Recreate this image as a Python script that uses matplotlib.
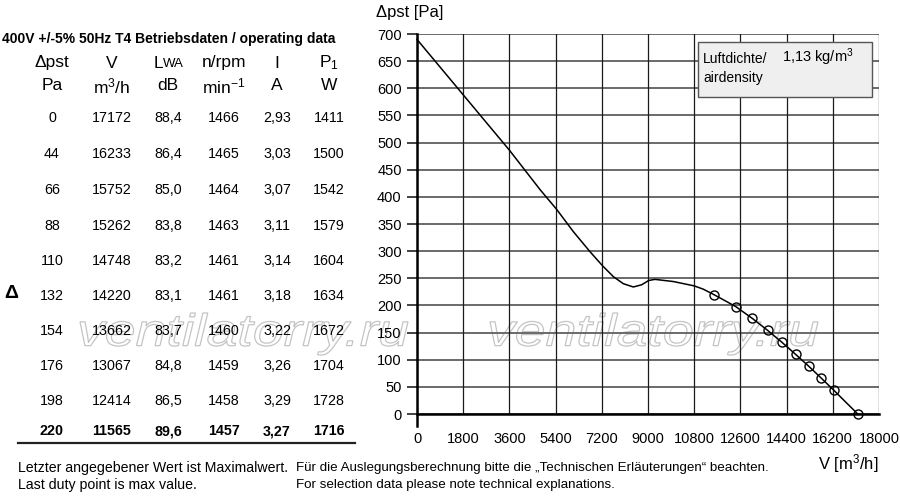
import matplotlib
matplotlib.use("Agg")
import matplotlib.pyplot as plt
from matplotlib.textpath import TextPath
from matplotlib.patches import PathPatch
from matplotlib.font_manager import FontProperties
from matplotlib.transforms import Affine2D
from matplotlib.lines import Line2D

plt.rcParams['font.family'] = ['Liberation Sans', 'DejaVu Sans']
plt.rcParams['mathtext.fontset'] = 'custom'
plt.rcParams['mathtext.rm'] = 'Liberation Sans'
plt.rcParams['mathtext.it'] = 'Liberation Sans:italic'
plt.rcParams['mathtext.bf'] = 'Liberation Sans:bold'

# ---- data ----
dp = [0, 44, 66, 88, 110, 132, 154, 176, 198, 220]
flow = [17172, 16233, 15752, 15262, 14748, 14220, 13662, 13067, 12414, 11565]
lwa = ['88,4', '86,4', '85,0', '83,8', '83,2', '83,1', '83,7', '84,8', '86,5', '89,6']
rpm = [1466, 1465, 1464, 1463, 1461, 1461, 1460, 1459, 1458, 1457]
cur = ['2,93', '3,03', '3,07', '3,11', '3,14', '3,18', '3,22', '3,26', '3,29', '3,27']
p1 = [1411, 1500, 1542, 1579, 1604, 1634, 1672, 1704, 1728, 1716]

curve_V = [0, 1800, 3600, 4800, 5440, 6090, 6740, 7230, 7650, 8040, 8430,
           8750, 9030, 9270, 9990, 10800, 11150]
curve_p = [690, 588, 486, 413, 377, 336, 299, 273, 253, 240, 234,
           238, 246, 248, 244, 236, 230]

xticks = [0, 1800, 3600, 5400, 7200, 9000, 10800, 12600, 14400, 16200, 18000]
yticks = list(range(0, 701, 50))

W, H = 900, 500
fig = plt.figure(figsize=(9, 5), dpi=100)


def ft(x, y, s, **kw):
    kw.setdefault('va', 'center')
    return fig.text(x / W, 1 - y / H, s, **kw)


# ---- watermark (behind everything) ----
fp = FontProperties(family='Liberation Sans', style='italic')
for xl in (80, 490):
    tp = TextPath((0, 0), 'ventilatorry.ru', size=10, prop=fp)
    bb = tp.get_extents()
    sx = 328 / bb.width
    sy = 42 / bb.height
    tr = Affine2D().translate(-bb.x0, -bb.y0).scale(sx, sy).translate(xl, H - 355)
    patch = PathPatch(tr.transform_path(tp), facecolor='white', edgecolor='#c4c4c4',
                      lw=0.9, transform=None, zorder=-5)
    fig.patches.append(patch)

# ---- axes ----
ax = fig.add_axes([417 / W, (H - 414) / H, 462 / W, 380 / H])
ax.patch.set_visible(False)
ax.set_xlim(0, 18000)
ax.set_ylim(0, 700)
ax.set_xticks(xticks)
ax.set_yticks(yticks)
ax.set_xticklabels([str(v) for v in xticks], fontsize=10.5)
ax.set_yticklabels([str(v) for v in yticks], fontsize=10.5)
ax.tick_params(axis='y', length=7, width=1.2, pad=4, color='#222222')
ax.tick_params(axis='x', length=0, pad=13)
for v in yticks:
    ax.axhline(v, color='#6a6a6a', lw=1.4, zorder=1)
for v in xticks:
    ax.axvline(v, color='#1a1a1a', lw=0.9, zorder=1)
for s in ('top', 'right'):
    ax.spines[s].set_visible(False)
ax.spines['left'].set_linewidth(1.8)
ax.spines['left'].set_bounds(-22, 700)
ax.spines['bottom'].set_linewidth(1.8)
ax.spines['left'].set_zorder(3)
ax.spines['bottom'].set_zorder(3)

line_V = curve_V + flow[::-1]
line_p = curve_p + dp[::-1]
ax.plot(line_V, line_p, color='black', lw=1.1, zorder=4, clip_on=False)
ax.plot(flow, dp, linestyle='none', marker='o', markersize=6.5, markerfacecolor='none',
        markeredgecolor='black', markeredgewidth=1.0, zorder=5, clip_on=False)

# density box
box = plt.Rectangle((698 / W, 1 - 97 / H), 174 / W, 55 / H, transform=fig.transFigure,
                    facecolor='#efefef', edgecolor='#555555', lw=1.0, zorder=6)
fig.patches.append(box)
ft(703, 59, 'Luftdichte/', fontsize=10, zorder=7)
ft(782, 57, r'1,13 kg/m$^3$', fontsize=10.5, zorder=7)
ft(703, 78, 'airdensity', fontsize=10, zorder=7)

# axis labels
ft(376, 12, 'Δpst [Pa]', fontsize=12)
ft(818, 464, r'V [m$^3$/h]', fontsize=12)

# ---- table ----
ft(2, 39, '400V +/-5% 50Hz T4 Betriebsdaten / operating data', fontsize=10, fontweight='bold')
cols = [52, 112, 168, 224, 277, 329]
hy1, hy2 = 63, 86
ft(cols[0], hy1, 'Δpst', fontsize=12.5, ha='center')
ft(cols[1], hy1, 'V', fontsize=12.5, ha='center')
ft(cols[2] - 5, hy1, 'L', fontsize=12.5, ha='right')
ft(cols[2] - 5, hy1 + 1, 'WA', fontsize=9.5, ha='left')
ft(cols[3], hy1, 'n/rpm', fontsize=12.5, ha='center')
ft(cols[4], hy1, 'I', fontsize=12.5, ha='center')
ft(cols[5], hy1, r'P$_1$', fontsize=12.5, ha='center')
ft(cols[0], hy2, 'Pa', fontsize=12.5, ha='center')
ft(cols[1], hy2, r'm$^3$/h', fontsize=12.5, ha='center')
ft(cols[2], hy2, 'dB', fontsize=12.5, ha='center')
ft(cols[3], hy2, r'min$^{-1}$', fontsize=12.5, ha='center')
ft(cols[4], hy2, 'A', fontsize=12.5, ha='center')
ft(cols[5], hy2, 'W', fontsize=12.5, ha='center')

row_y = [118, 154, 190, 226, 261, 296, 331, 366, 401, 431]
for i in range(len(dp)):
    bold = 'bold' if i == len(dp) - 1 else 'normal'
    vals = [str(dp[i]), str(flow[i]), lwa[i], str(rpm[i]), cur[i], str(p1[i])]
    for c, s in zip(cols, vals):
        ft(c, row_y[i], s, fontsize=10.3, ha='center', fontweight=bold)

fig.add_artist(Line2D([18 / W, 355 / W], [1 - 443 / H, 1 - 443 / H], color='#222222',
                      lw=1.6, transform=fig.transFigure))
ft(4, 294, 'Δ', fontsize=14, fontweight='bold')

# ---- footnotes ----
ft(18, 468, 'Letzter angegebener Wert ist Maximalwert.', fontsize=10.2)
ft(18, 485, 'Last duty point is max value.', fontsize=10.2)
ft(296, 468, 'Für die Auslegungsberechnung bitte die „Technischen Erläuterungen“ beachten.', fontsize=9.6)
ft(296, 485, 'For selection data please note technical explanations.', fontsize=9.6)

fig.savefig('out.png', dpi=100)
